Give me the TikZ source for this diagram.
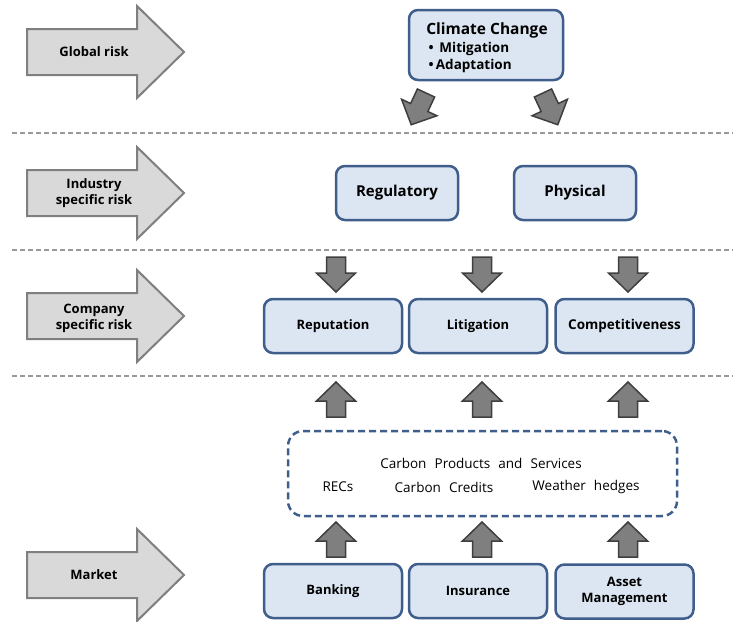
\documentclass[tikz,border=0pt]{standalone}
\usepackage{fontspec}
\setmainfont{Open Sans}
\usetikzlibrary{calc}
\definecolor{boxfill}{HTML}{DCE6F2}
\definecolor{boxline}{HTML}{3F5E8C}
\definecolor{bigfill}{HTML}{D9D9D9}
\definecolor{bigline}{HTML}{7F7F7F}
\definecolor{smfill}{HTML}{7F7F7F}
\definecolor{smline}{HTML}{3F3F3F}
\definecolor{sepline}{HTML}{9A9A9A}
\begin{document}
\begin{tikzpicture}[x=1pt,y=-1pt,
  box/.style={draw=boxline, fill=boxfill, line width=2.5pt, rounded corners=9pt,
    font=\fontsize{13}{16}\selectfont\bfseries, inner sep=0pt, align=center},
  riskbox/.style={box, minimum width=122pt, minimum height=54pt, font=\fontsize{15}{18}\selectfont\bfseries},
  widebox/.style={box, minimum width=138pt, minimum height=54pt},
  bigarrow/.pic={\draw[draw=bigline, fill=bigfill, line width=2pt, line join=miter]
    (0,-23) -- (110,-23) -- (110,-46) -- (157,0) -- (110,46) -- (110,23) -- (0,23) -- cycle;},
  blk/.pic={\draw[draw=smline, fill=smfill, line width=1.5pt, line join=miter]
    (-9.5,0) -- (-9.5,16) -- (-19.5,16) -- (0,35) -- (19.5,16) -- (9.5,16) -- (9.5,0) -- cycle;},
  sepline/.style={draw=sepline, line width=1.5pt, dash pattern=on 5pt off 3pt},
  risklabel/.style={font=\fontsize{13}{16}\selectfont\bfseries, align=center, inner sep=0pt},
  plain/.style={font=\fontsize{13.5}{16}\selectfont, inner sep=0pt}
]
\useasboundingbox (0,0) rectangle (733,621);

% separators
\coordinate (s1a) at (12,133); \coordinate (s1b) at (733,133);
\coordinate (s2a) at (12,250); \coordinate (s2b) at (733,250);
\coordinate (s3a) at (12,376); \coordinate (s3b) at (733,376);
\draw[sepline] (s1a) -- (s1b);
\draw[sepline] (s2a) -- (s2b);
\draw[sepline] (s3a) -- (s3b);

% level arrows
\pic at (27,52) {bigarrow};
\pic at (27,193) {bigarrow};
\pic at (27,316) {bigarrow};
\pic at (27,575) {bigarrow};
\node[risklabel] (lglobal) at (94,52) {Global risk};
\node[risklabel] (lindustry) at (94,193) {Industry\\specific risk};
\node[risklabel] (lcompany) at (94,318) {Company\\specific risk};
\node[risklabel] (lmarket) at (94,575) {Market};

% climate change
\node[box, minimum width=154pt, minimum height=70pt] (climate) at (486,45) {};
\node[align=left, inner sep=0pt, font=\fontsize{13.5}{17}\selectfont\bfseries] (climatetext) at (487,47.5)
  {{\fontsize{15.5}{19}\selectfont Climate Change}\\[1pt]
   \,•\, Mitigation\\
   \,•\,Adaptation};

\pic[rotate=-25] at (426,93) {blk};
\pic[rotate=25] at (543,93) {blk};

% industry level
\node[riskbox] (reg) at (397,193) {Regulatory};
\node[riskbox] (phys) at (575,193) {Physical};

\pic at (336,257) {blk};
\pic at (482,257) {blk};
\pic at (628,257) {blk};

% company level
\node[widebox] (rep) at (333,326) {Reputation};
\node[widebox] (lit) at (478,326) {Litigation};
\node[widebox] (comp) at (624.5,326) {\fontsize{13.5}{16}\selectfont Competitiveness};

\pic[rotate=180] at (336,417) {blk};
\pic[rotate=180] at (482,417) {blk};
\pic[rotate=180] at (628,417) {blk};

% carbon products
\node[draw=boxline, line width=2.5pt, rounded corners=15pt, dash pattern=on 7pt off 4pt,
  minimum width=389pt, minimum height=85pt] (carbon) at (482.5,473.5) {};
\node[plain] (cps) at (481,463) {Carbon\hspace{0.6em}Products\hspace{0.6em}and\hspace{0.6em}Services};
\node[plain] (recs) at (338,487) {RECs};
\node[plain] (ccred) at (444,487) {Carbon\hspace{0.6em}Credits};
\node[plain] (weather) at (586,487) {Weather\hspace{0.6em}hedges};

\pic[rotate=180] at (336,557) {blk};
\pic[rotate=180] at (482,557) {blk};
\pic[rotate=180] at (628,557) {blk};

% market
\node[widebox] (bank) at (333,591) {Banking};
\node[widebox] (ins) at (478,591) {Insurance};
\node[widebox] (asset) at (624.5,591.5) {Asset\\Management};
\end{tikzpicture}
\end{document}
